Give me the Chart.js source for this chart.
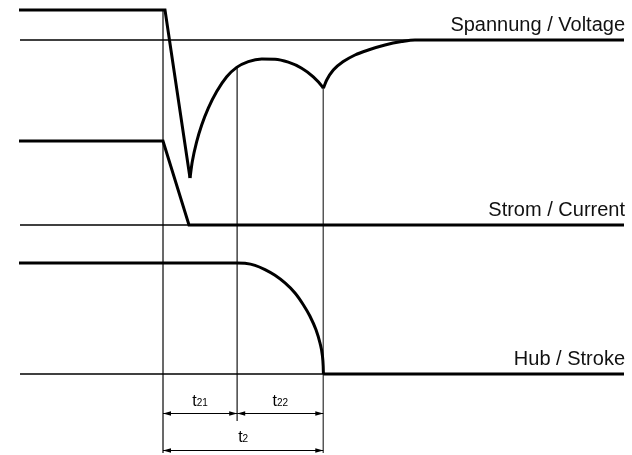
<!DOCTYPE html>
<html>
<head>
<meta charset="utf-8">
<script src="https://cdn.jsdelivr.net/npm/chart.js@4/dist/chart.umd.min.js"></script>
<style>
  html, body { margin: 0; padding: 0; background: #fff; }
  #wrap { width: 632px; height: 455px; }
</style>
</head>
<body>
<div id="wrap"><canvas id="chart"></canvas></div>
<script>
// time in ms, t = 0 at the switching instant
// voltage in % of nominal, current in % of holding current, stroke in % of full stroke
const voltageDrop = [[-72, 115], [1, 115], [13.5, 31]];
const voltageArc1 = [[13.5, 31], [14.65, 39.2], [16.85, 49.2], [19.35, 57.5], [22.65, 65.9], [26.85, 74.2],
                     [31.85, 81.6], [36.85, 86.3], [42.65, 89.2], [49.35, 90.5], [56, 90.4], [62.65, 88.9],
                     [69.35, 85.9], [75.15, 81.6], [79.65, 76.7], [80.15, 75.85]];
const voltageArc2 = [[80.15, 75.85], [81.85, 80], [85.15, 85], [90.15, 89.2], [96, 92.5], [102.65, 95],
                     [111, 97.5], [119.35, 99.2], [126, 100], [230.5, 100]];
const current = [[-72, 100], [0, 100], [13, 0], [230.5, 0]];
const strokeMove = [[-72, 100], [37, 100], [41, 99.7], [46, 97.9], [51, 94], [56, 88.9], [61, 82],
                    [66, 73], [70.15, 62.4], [73.5, 52], [76.5, 39.9], [78.5, 27.9], [79.7, 16.5],
                    [80.1, 7], [80.2, 0]];
const strokeEnd = [[80.2, 0], [230.5, 0]];

// reference levels
const voltageNominal = [[-71.5, 100], [230.5, 100]];
const currentZero = [[-71.5, 0], [230.5, 0]];
const strokeZero = [[-71.5, 0], [230.5, 0]];

// time markers (voltage units for top / bottom ends)
const markerTimes = [0, 37.1, 80.15];
const markerTops = [115.25, 86.4, 75.85];
const markerBottoms = [-106.5, -90.5, -106.5];

// dimension lines (stroke units)
const dimSpans = [[0, 37.1], [37.1, 80.15], [0, 80.15]];
const dimLevels = [-35.4, -35.4, -68.5];
const dimLabelLevels = [-28.6, -28.6, -61];
const dimLabels = [['t', '21'], ['t', '22'], ['t', '2']];

const signalNames = ['Spannung / Voltage', 'Strom / Current', 'Hub / Stroke'];
const signalAxes = ['yV', 'yI', 'yS'];
const signalEnds = [100, 0, 0];

const pts = arr => arr.map(p => ({ x: p[0], y: p[1] }));

const FONT = "'Liberation Sans', Arial, sans-serif";

function thick(data, axis, smooth) {
    return {
        data: pts(data), yAxisID: axis, borderColor: '#000', borderWidth: 3,
        pointRadius: 0, showLine: true, fill: false, order: 0,
        cubicInterpolationMode: smooth ? 'monotone' : 'default', tension: smooth ? 0.4 : 0,
        borderJoinStyle: 'miter'
    };
}

function thin(data, axis, color, width) {
    return {
        data: pts(data), yAxisID: axis, borderColor: color, borderWidth: width,
        pointRadius: 0, showLine: true, fill: false, order: 1, tension: 0
    };
}

const datasets = [
    thick(voltageDrop, 'yV', false),
    thick(voltageArc1, 'yV', true),
    thick(voltageArc2, 'yV', true),
    thick(current, 'yI', false),
    thick(strokeMove, 'yS', true),
    thick(strokeEnd, 'yS', false),
    thin(voltageNominal, 'yV', '#000', 1.3),
    thin(currentZero, 'yI', '#000', 1.3),
    thin(strokeZero, 'yS', '#000', 1.3)
];
markerTimes.forEach((t, i) => {
    datasets.push(thin([[t, markerTops[i]], [t, markerBottoms[i]]], 'yV', '#555', 1));
});

const annotations = {
    id: 'annotations',
    afterDatasetsDraw(chart) {
        const ctx = chart.ctx;
        const x = chart.scales.x;
        const yS = chart.scales.yS;
        ctx.save();
        ctx.fillStyle = '#000';
        ctx.strokeStyle = '#000';
        ctx.lineWidth = 1;

        // dimension arrows
        dimSpans.forEach((span, i) => {
            const x1 = x.getPixelForValue(span[0]);
            const x2 = x.getPixelForValue(span[1]);
            const y = Math.round(yS.getPixelForValue(dimLevels[i])) + 0.5;
            ctx.beginPath();
            ctx.moveTo(x1, y);
            ctx.lineTo(x2, y);
            ctx.stroke();
            ctx.beginPath();
            ctx.moveTo(x1, y); ctx.lineTo(x1 + 8, y - 2.2); ctx.lineTo(x1 + 8, y + 2.2); ctx.closePath();
            ctx.moveTo(x2, y); ctx.lineTo(x2 - 8, y - 2.2); ctx.lineTo(x2 - 8, y + 2.2); ctx.closePath();
            ctx.fill();

            const mid = (x1 + x2) / 2;
            const by = yS.getPixelForValue(dimLabelLevels[i]);
            ctx.textBaseline = 'alphabetic';
            ctx.textAlign = 'left';
            ctx.font = '16px ' + FONT;
            const w1 = ctx.measureText(dimLabels[i][0]).width;
            ctx.font = '10px ' + FONT;
            const w2 = ctx.measureText(dimLabels[i][1]).width;
            const sx = mid - (w1 + w2) / 2;
            ctx.font = '16px ' + FONT;
            ctx.fillText(dimLabels[i][0], sx, by);
            ctx.font = '10px ' + FONT;
            ctx.fillText(dimLabels[i][1], sx + w1, by);
        });

        // signal names
        ctx.font = '20px ' + FONT;
        ctx.textAlign = 'right';
        ctx.fillStyle = '#111';
        signalNames.forEach((name, i) => {
            const sc = chart.scales[signalAxes[i]];
            ctx.fillText(name, 625, sc.getPixelForValue(signalEnds[i]) - 9);
        });
        ctx.restore();
    }
};

new Chart(document.getElementById('chart').getContext('2d'), {
    type: 'scatter',
    data: { datasets },
    options: {
        responsive: true,
        maintainAspectRatio: false,
        animation: false,
        events: [],
        layout: { padding: 0 },
        scales: {
            x: { type: 'linear', display: false, min: -81.5, max: 234.5 },
            yV: { type: 'linear', display: false, min: -107.5, max: 120 },
            yI: { type: 'linear', display: false, min: -273.81, max: 267.86 },
            yS: { type: 'linear', display: false, min: -72.97, max: 336.94 }
        },
        plugins: {
            legend: { display: false },
            tooltip: { enabled: false }
        }
    },
    plugins: [annotations]
});
</script>
</body>
</html>
